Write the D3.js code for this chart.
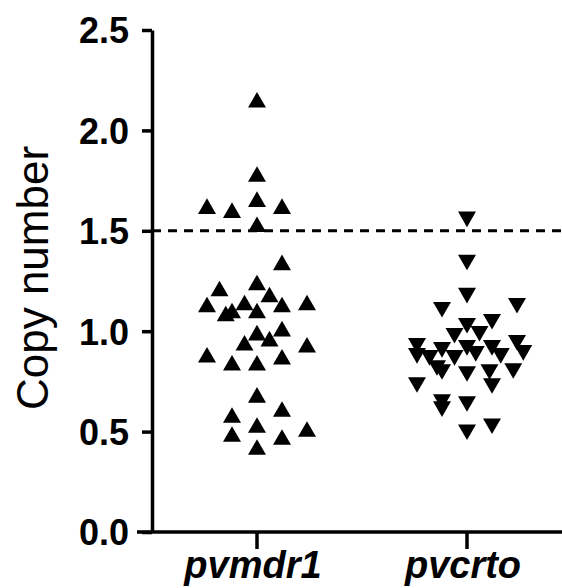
<!DOCTYPE html>
<meta charset="utf-8">
<script src="https://d3js.org/d3.v7.min.js"></script>
<style>
  body { margin: 0; background: #fff; }
  text { font-family: "Liberation Sans", Arial, sans-serif; fill: #000; }
  .ticklab { font-size: 36px; font-weight: bold; }
  .catlab { font-size: 38px; font-weight: bold; font-style: italic; }
  .title { font-size: 44px; }
</style>
<div id="my_dataviz"></div>
<script>
// categories on the x axis
var categories = ["pvmdr1", "pvcrto"];

// copy number values, with their column slot (scatter spread)
var mdrValues = [2.14, 1.77, 1.61, 1.59, 1.645, 1.61, 1.52, 1.33,
  1.20, 1.23, 1.17, 1.12, 1.09, 1.075, 1.13, 1.09, 1.12, 1.13,
  1.00, 0.98, 0.93, 0.95, 0.92, 0.87, 0.83, 0.83, 0.86,
  0.67, 0.57, 0.60, 0.52, 0.475, 0.46, 0.50, 0.41];
var mdrSlots = [0, 0, -4, -2, 0, 2, 0, 2,
  -3, 0, 1, -4, -2, -2.5, -1, 0, 2, 4,
  2, 0, -1, 1, 4, -4, -2, 0, 2,
  0, -2, 2, 0, -2, 2, 4, 0];

var crtoValues = [1.57, 1.355, 1.19, 1.12, 1.14, 1.04, 1.06, 0.99, 1.00,
  0.94, 0.92, 0.93, 0.93, 0.955, 0.89, 0.88, 0.88, 0.90, 0.89, 0.905,
  0.83, 0.81, 0.80, 0.81, 0.815, 0.745, 0.74, 0.66, 0.625, 0.65, 0.51, 0.54];
var crtoSlots = [0, 0, 0, -2, 4, 0, 2, -1, 1,
  -4, -2, 0, 2, 4, -4, -3, -1, 0.7, 2.7, 4.5,
  -2.4, -2, 0, 1.8, 3.7, -4, 2, -2, -2, 0, 0, 2];

var yTicks = [0, 0.5, 1.0, 1.5, 2.0, 2.5];
var cutoff = [1.5];

var width = 562, height = 588;

var svg = d3.select("#my_dataviz")
  .append("svg")
  .attr("width", width)
  .attr("height", height);

var y = d3.scaleLinear().domain([0, 2.5]).range([532, 30]);
var x = d3.scalePoint().domain(categories).range([257, 467]);
var spread = d3.scaleLinear().domain([0, 1]).range([0, 12.5]);

// y axis
var yAxis = svg.append("g")
  .attr("transform", "translate(152,0)")
  .call(d3.axisLeft(y).tickValues(yTicks).tickFormat(d3.format(".1f"))
    .tickSize(10).tickPadding(13).tickSizeOuter(0));
yAxis.select(".domain").attr("stroke-width", 3.5);
yAxis.selectAll(".tick line").attr("stroke-width", 3.5);
yAxis.selectAll(".tick text").attr("class", "ticklab").attr("dy", "0.36em");

// x axis line (runs a bit left of the y axis, like the 0.0 tick)
svg.append("line")
  .attr("x1", 137).attr("x2", width)
  .attr("y1", y(0)).attr("y2", y(0))
  .attr("stroke", "#000").attr("stroke-width", 3.5);

var xTick = svg.selectAll(".xtick")
  .data(categories)
  .enter()
  .append("g")
  .attr("transform", function(d) { return "translate(" + x(d) + "," + y(0) + ")"; });
xTick.append("line")
  .attr("y1", 0).attr("y2", 17)
  .attr("stroke", "#000").attr("stroke-width", 3.5);
xTick.append("text")
  .attr("class", "catlab")
  .attr("text-anchor", "middle")
  .attr("x", -4)
  .attr("y", 46)
  .text(function(d) { return d; });

// y title
svg.append("text")
  .attr("class", "title")
  .attr("text-anchor", "middle")
  .attr("transform", "translate(48,278) rotate(-90)")
  .text("Copy number");

// dashed 1.5 cutoff
svg.selectAll(".cutoff")
  .data(cutoff)
  .enter()
  .append("line")
  .attr("x1", 152).attr("x2", width)
  .attr("y1", function(d) { return y(d); })
  .attr("y2", function(d) { return y(d); })
  .attr("stroke", "#000").attr("stroke-width", 3)
  .attr("stroke-dasharray", "9,7");

// points
var tri = d3.symbol().type(d3.symbolTriangle).size(140);

var groups = [
  { cat: "pvmdr1", vals: mdrValues, slots: mdrSlots, rot: 0 },
  { cat: "pvcrto", vals: crtoValues, slots: crtoSlots, rot: 180 }
];

groups.forEach(function(g) {
  svg.append("g")
    .selectAll("path")
    .data(g.vals)
    .enter()
    .append("path")
    .attr("d", tri)
    .attr("fill", "#000")
    .attr("transform", function(d, i) {
      return "translate(" + (x(g.cat) + spread(g.slots[i])) + "," + y(d) + ") rotate(" + g.rot + ")";
    });
});
</script>
